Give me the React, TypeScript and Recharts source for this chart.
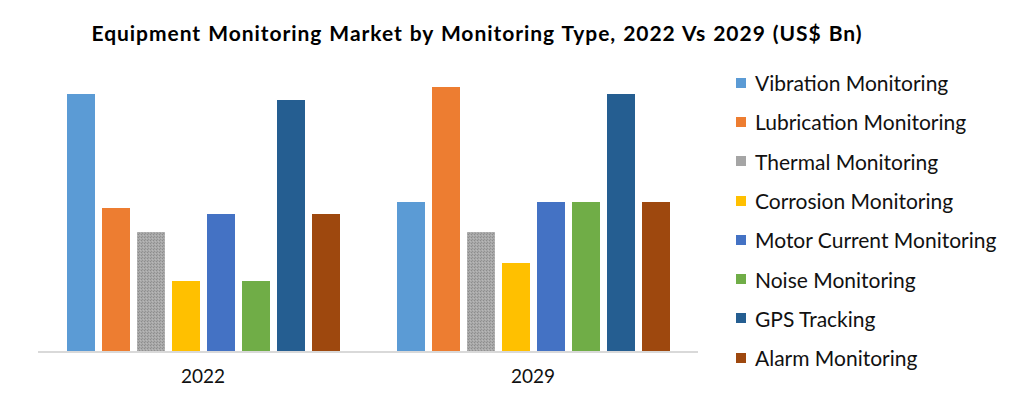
import React from 'react'
import { BarChart, Bar, XAxis, YAxis } from 'recharts'

const years = ['2022', '2029']

const vibration = [12.9, 7.5]
const lubrication = [7.2, 13.25]
const thermal = [6.0, 6.0]
const corrosion = [3.55, 4.45]
const motorCurrent = [6.9, 7.5]
const noise = [3.55, 7.5]
const gpsTracking = [12.6, 12.9]
const alarm = [6.9, 7.5]

const series = [
  { key: 'Vibration Monitoring', values: vibration, color: '#5b9bd5' },
  { key: 'Lubrication Monitoring', values: lubrication, color: '#ed7d31' },
  { key: 'Thermal Monitoring', values: thermal, color: 'url(#thermalDots)', swatch: '#a5a5a5' },
  { key: 'Corrosion Monitoring', values: corrosion, color: '#ffc000' },
  { key: 'Motor Current Monitoring', values: motorCurrent, color: '#4472c4' },
  { key: 'Noise Monitoring', values: noise, color: '#70ad47' },
  { key: 'GPS Tracking', values: gpsTracking, color: '#255e91' },
  { key: 'Alarm Monitoring', values: alarm, color: '#9e480e' },
]

const data = years.map((year, i) => {
  const row: Record<string, string | number> = { year }
  series.forEach((s) => {
    row[s.key] = s.values[i]
  })
  return row
})

const font = 'Lato, "Open Sans", sans-serif'

export default function App() {
  return (
    <div style={{ position: 'absolute', left: 0, top: 0, width: 1023, height: 397, background: '#fff' }}>
      <div
        style={{
          position: 'absolute',
          left: 0,
          width: 954,
          top: 20,
          textAlign: 'center',
          fontFamily: font,
          fontWeight: 700,
          fontSize: 21,
          letterSpacing: 0.95,
          wordSpacing: 1,
          lineHeight: '26px',
          color: '#000',
        }}
      >
        Equipment Monitoring Market by Monitoring Type, 2022 Vs 2029 (US$ Bn)
      </div>
      <div style={{ position: 'absolute', left: 736, top: 63, fontFamily: font }}>
        {series.map((s) => (
          <div key={s.key} style={{ display: 'flex', alignItems: 'center', height: 39.3 }}>
            <span style={{ width: 10, height: 10, background: s.swatch || s.color, marginRight: 9 }} />
            <span style={{ fontSize: 21, color: '#111' }}>{s.key}</span>
          </div>
        ))}
      </div>
      <div style={{ position: 'absolute', left: 0, top: 0 }}>
        <BarChart
          width={1023}
          height={397}
          data={data}
          margin={{ top: 80, left: 38, right: 325, bottom: 15 }}
          barSize={28}
          barGap={7}
        >
          <defs>
            <pattern id="thermalDots" width="3" height="3" patternUnits="userSpaceOnUse">
              <rect width="3" height="3" fill="#a9a9a9" />
              <rect x="0" y="0" width="1" height="1" fill="#8c8c8c" />
              <rect x="2" y="1" width="1" height="1" fill="#b8b8b8" />
              <rect x="1" y="2" width="1" height="1" fill="#939393" />
            </pattern>
          </defs>
          <XAxis
            dataKey="year"
            axisLine={{ stroke: '#d9d9d9', strokeWidth: 2 }}
            tickLine={false}
            tickMargin={12}
            tick={{ fontSize: 19, fill: '#111', fontFamily: font }}
          />
          <YAxis hide domain={[0, 13.6]} />
          {series.map((s) => (
            <Bar key={s.key} dataKey={s.key} fill={s.color} isAnimationActive={false} />
          ))}
        </BarChart>
      </div>
    </div>
  )
}
